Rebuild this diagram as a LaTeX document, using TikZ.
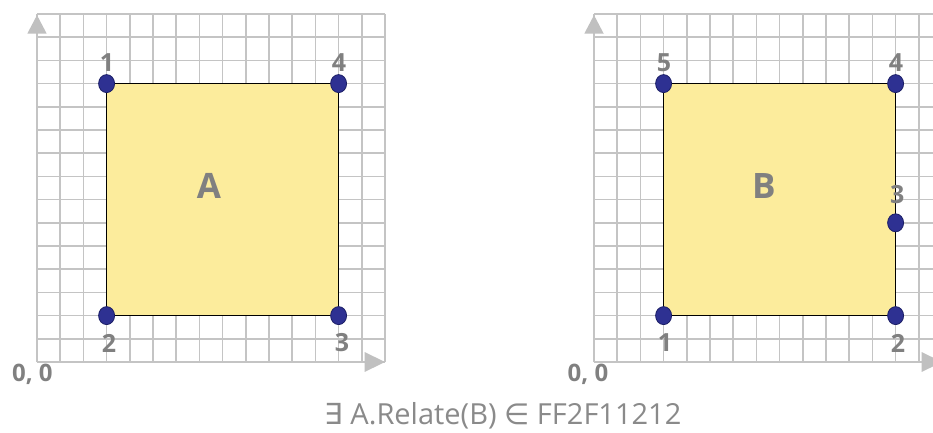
\documentclass[tikz,border=0pt]{standalone}
\usepackage{fontspec}
\setmainfont{Open Sans}
\newfontfamily\symfont{DejaVu Sans}
\usetikzlibrary{shapes.geometric}
\definecolor{gridgray}{HTML}{C4C4C4}
\definecolor{arrowgray}{HTML}{C0C0C0}
\definecolor{lblgray}{HTML}{808080}
\definecolor{txtgray}{HTML}{8A8A8A}
\definecolor{polyfill}{HTML}{FCEC9C}
\definecolor{dotfill}{HTML}{2E3192}
\definecolor{dotline}{HTML}{1C1F66}
\tikzset{
  gridline/.style={draw=gridgray, line width=1.6pt},
  axistip/.style={fill=arrowgray},
  polystyle/.style={fill=polyfill, draw=black, line width=1.4pt},
  vertexdot/.style={ellipse, fill=dotfill, draw=dotline, line width=0.8pt,
                 minimum width=16pt, minimum height=18pt, inner sep=0pt},
  numlbl/.style={text=lblgray, font=\fontsize{25}{25}\selectfont\bfseries, inner sep=0pt},
  originlbl/.style={text=lblgray, font=\fontsize{24}{24}\selectfont\bfseries, inner sep=0pt},
  polylbl/.style={text=lblgray, font=\fontsize{35}{35}\selectfont\bfseries, inner sep=0pt},
  captext/.style={text=txtgray, font=\fontsize{29}{29}\selectfont, inner sep=0pt}
}
\begin{document}
\begin{tikzpicture}[x=1pt,y=-1pt]
\clip (0,0) rectangle (933,432);
\fill[white] (0,0) rectangle (933,432);
% ---------- left plot: A ----------
\begin{scope}[shift={(37,362)}, x=23.2pt, y=23.2pt]
  \draw[gridline] (0,0) grid[step=1] (15,15);
  \fill[axistip] (-0.42,14.15) -- (0.42,14.15) -- (0,14.95) -- cycle;
  \fill[axistip] (14.12,-0.43) -- (14.12,0.43) -- (15,0) -- cycle;
  \filldraw[polystyle] (3,2) rectangle (13,12);
  \node[vertexdot] (a1) at (3,12) {};
  \node[vertexdot] (a2) at (3,2) {};
  \node[vertexdot] (a3) at (13,2) {};
  \node[vertexdot] (a4) at (13,12) {};
  \node[numlbl] (la1) at (3.02,12.89) {1};
  \node[numlbl] (la4) at (13.02,12.89) {4};
  \node[numlbl] (la2) at (3.1,0.82) {2};
  \node[numlbl] (la3) at (13.15,0.82) {3};
  \node[polylbl] (na) at (7.41,7.6) {A};
  \node[originlbl] (oa) at (-0.2,-0.52) {0, 0};
\end{scope}
% ---------- right plot: B ----------
\begin{scope}[shift={(594,362)}, x=23.2pt, y=23.2pt]
  \draw[gridline] (0,0) grid[step=1] (15,15);
  \fill[axistip] (-0.42,14.15) -- (0.42,14.15) -- (0,14.95) -- cycle;
  \fill[axistip] (14.12,-0.43) -- (14.12,0.43) -- (15,0) -- cycle;
  \filldraw[polystyle] (3,2) rectangle (13,12);
  \node[vertexdot] (b1) at (3,2) {};
  \node[vertexdot] (b2) at (13,2) {};
  \node[vertexdot] (b3) at (13,6) {};
  \node[vertexdot] (b4) at (13,12) {};
  \node[vertexdot] (b5) at (3,12) {};
  \node[numlbl] (lb5) at (3.02,12.89) {5};
  \node[numlbl] (lb4) at (13.02,12.89) {4};
  \node[numlbl] (lb3) at (13.07,7.2) {3};
  \node[numlbl] (lb1) at (3.06,0.82) {1};
  \node[numlbl] (lb2) at (13.1,0.82) {2};
  \node[polylbl] (nb) at (7.32,7.6) {B};
  \node[originlbl] (ob) at (-0.26,-0.52) {0, 0};
\end{scope}
% ---------- caption ----------
\node[captext] (cap) at (503,416) {{\symfont ∃} A.Relate(B) {\symfont ∈} FF2F11212};
\end{tikzpicture}
\end{document}
